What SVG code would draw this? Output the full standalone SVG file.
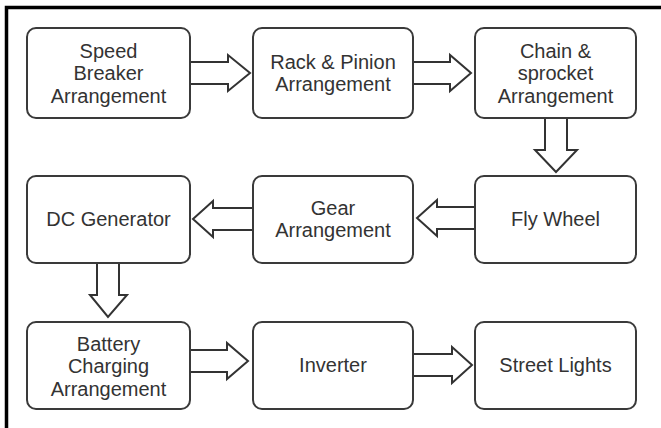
<svg xmlns="http://www.w3.org/2000/svg" width="661" height="428" viewBox="0 0 661 428">
<style>
.box{fill:#fff;stroke:#3a3a3a;stroke-width:2}
.arr{fill:#fff;stroke:#333;stroke-width:2;stroke-linejoin:miter}
text{font-family:"Liberation Sans",Arial,sans-serif;font-size:20px;fill:#333;text-anchor:middle}
</style>
<rect x="0" y="0" width="661" height="428" fill="#fff"/>
<path d="M6.5 428 V7.5 H661" fill="none" stroke="#000" stroke-width="3.5"/>
<g id="connectors">
<polygon class="arr" points="190,62 228,62 228,55 250,73 228,91 228,84 190,84"/>
<polygon class="arr" points="413,62 450,62 450,55 471,73 450,91 450,84 413,84"/>
<polygon class="arr" points="545,118 545,150 535,150 556,172 577,150 567,150 567,118"/>
<polygon class="arr" points="475,207 437,207 437,200 417,218 437,236 437,229 475,229"/>
<polygon class="arr" points="253,208 213,208 213,201 193,219 213,237 213,230 253,230"/>
<polygon class="arr" points="97,263 97,295 90,295 108,317 127,295 119,295 119,263"/>
<polygon class="arr" points="190,350 227,350 227,343 248,361 227,379 227,372 190,372"/>
<polygon class="arr" points="413,354 452,354 452,347 472,365 452,383 452,376 413,376"/>
</g>
<g id="speed-breaker"><rect class="box" x="27" y="28" width="163" height="90" rx="9"/>
<text x="108.5" y="58">Speed</text><text x="108.5" y="80">Breaker</text><text x="108.5" y="103">Arrangement</text></g>
<g id="rack-pinion"><rect class="box" x="253" y="28" width="160" height="90" rx="9"/>
<text x="333" y="69">Rack &amp; Pinion</text><text x="333" y="91">Arrangement</text></g>
<g id="chain-sprocket"><rect class="box" x="475" y="28" width="161" height="90" rx="9"/>
<text x="555.5" y="58">Chain &amp;</text><text x="555.5" y="80">sprocket</text><text x="555.5" y="103">Arrangement</text></g>
<g id="dc-generator"><rect class="box" x="27" y="176" width="163" height="87" rx="9"/>
<text x="108.5" y="226">DC Generator</text></g>
<g id="gear"><rect class="box" x="253" y="176" width="160" height="87" rx="9"/>
<text x="333" y="215">Gear</text><text x="333" y="237">Arrangement</text></g>
<g id="fly-wheel"><rect class="box" x="475" y="176" width="161" height="87" rx="9"/>
<text x="555.5" y="226">Fly Wheel</text></g>
<g id="battery"><rect class="box" x="27" y="322" width="163" height="87" rx="9"/>
<text x="108.5" y="351">Battery</text><text x="108.5" y="373">Charging</text><text x="108.5" y="396">Arrangement</text></g>
<g id="inverter"><rect class="box" x="253" y="322" width="160" height="87" rx="9"/>
<text x="333" y="372">Inverter</text></g>
<g id="street-lights"><rect class="box" x="475" y="322" width="161" height="87" rx="9"/>
<text x="555.5" y="372">Street Lights</text></g>
</svg>
